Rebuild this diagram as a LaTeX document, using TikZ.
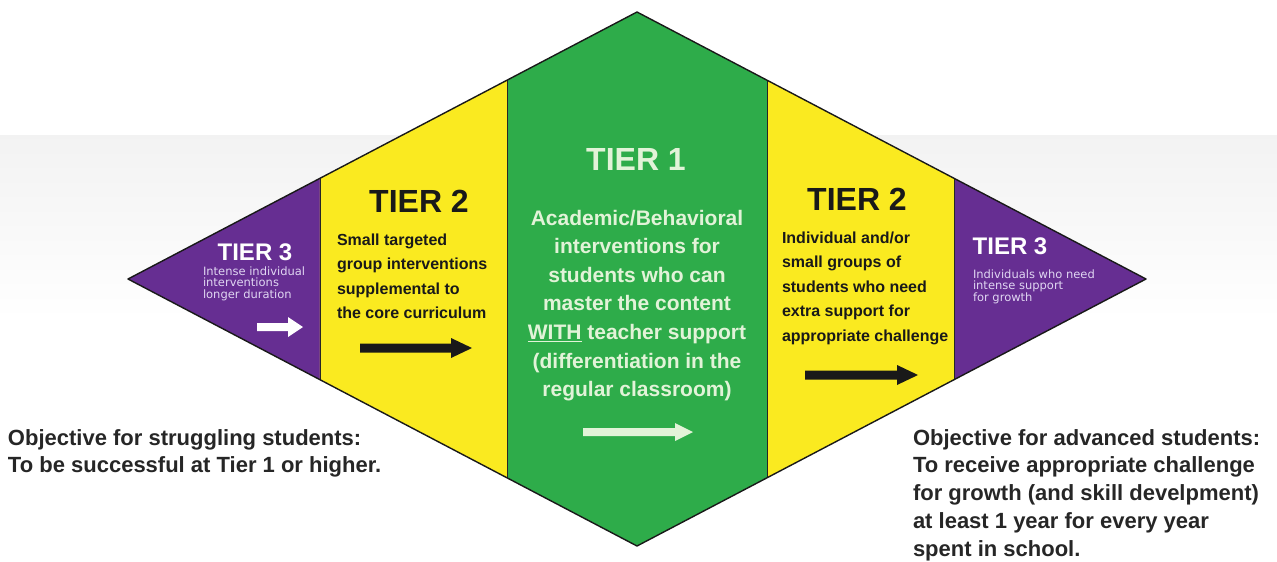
\documentclass[tikz,border=0pt]{standalone}
\usepackage{fontspec}
\setmainfont{Liberation Sans}
\newfontfamily\smallfont{DejaVu Sans}
\usetikzlibrary{calc}

\definecolor{tierpurple}{RGB}{102,46,146}
\definecolor{tieryellow}{RGB}{250,234,32}
\definecolor{tiergreen}{RGB}{46,172,74}
\definecolor{greentext}{RGB}{226,243,216}
\definecolor{lavender}{RGB}{224,214,242}
\definecolor{objgray}{RGB}{38,38,38}

% block arrow: colour, x from, x to, y, shaft half, head half, head length
\newcommand{\blockarrow}[7]{%
  \fill[#1] (#2,#4-#5) -- (#3-#7,#4-#5) -- (#3-#7,#4-#6) -- (#3,#4)
    -- (#3-#7,#4+#6) -- (#3-#7,#4+#5) -- (#2,#4+#5) -- cycle;}

\begin{document}
\begin{tikzpicture}[x=1pt, y=-1pt, inner sep=0, outer sep=0,
  tiertitle/.style={anchor=base, font=\bfseries\fontsize{32}{32}\selectfont},
  smalltitle/.style={anchor=base, text=white, font=\bfseries\fontsize{24}{24}\selectfont},
  tierbody/.style={anchor=base west, align=left, text=black!90, font=\bfseries\fontsize{16}{24.5}\selectfont},
  tiernote/.style={anchor=base west, align=left, text=lavender, font=\smallfont\fontsize{11.5}{11.5}\selectfont},
  objective/.style={anchor=base west, align=left, text=objgray, font=\bfseries\fontsize{22}{27.8}\selectfont}]

  \useasboundingbox (0,0) rectangle (1277,562);
  % faint band behind the diamond
  \fill[top color=black!5, bottom color=white] (0,135) rectangle (1277,320);

  \coordinate (L) at (128,279);
  \coordinate (T) at (637,12);
  \coordinate (R) at (1146,279);
  \coordinate (B) at (637,546);

  \coordinate (lt1) at ($(L)!0.3772!(T)$);
  \coordinate (lb1) at ($(L)!0.3772!(B)$);
  \coordinate (lt2) at ($(L)!0.7446!(T)$);
  \coordinate (lb2) at ($(L)!0.7446!(B)$);
  \coordinate (rt1) at ($(R)!0.3772!(T)$);
  \coordinate (rb1) at ($(R)!0.3772!(B)$);
  \coordinate (rt2) at ($(R)!0.7446!(T)$);
  \coordinate (rb2) at ($(R)!0.7446!(B)$);

  \fill[tierpurple] (L) -- (lt1) -- (lb1) -- cycle;
  \fill[tieryellow] (lt1) -- (lt2) -- (lb2) -- (lb1) -- cycle;
  \fill[tiergreen] (lt2) -- (T) -- (rt2) -- (rb2) -- (B) -- (lb2) -- cycle;
  \fill[tieryellow] (rt2) -- (rt1) -- (rb1) -- (rb2) -- cycle;
  \fill[tierpurple] (rt1) -- (R) -- (rb1) -- cycle;

  \draw[black!85, line width=0.9] (lt1) -- (lb1);
  \draw[black!85, line width=0.9] (lt2) -- (lb2);
  \draw[black!85, line width=0.9] (rt2) -- (rb2);
  \draw[black!85, line width=0.9] (rt1) -- (rb1);
  \draw[black!90, line width=1.4, line join=round] (L) -- (T) -- (R) -- (B) -- cycle;

  % left tier 3 (multi-line nodes sit on their last baseline)
  \node[smalltitle] (t3ltitle) at (255,260) {TIER 3};
  \node[tiernote] (t3lnote) at (203,298) {Intense individual\\interventions\\longer duration};
  \blockarrow{white}{257}{303}{327}{4}{10}{15}

  % left tier 2
  \node[tiertitle, text=black!90] (t2ltitle) at (419,212) {TIER 2};
  \node[tierbody] (t2lbody) at (337,318.5) {Small targeted\\group interventions\\supplemental to\\the core curriculum};
  \blockarrow{black!90}{360}{472}{348}{4.5}{10}{21}

  % tier 1
  \node[tiertitle, text=greentext] (t1title) at (636,170) {TIER 1};
  \node[anchor=base, align=center, text=greentext, font=\bfseries\fontsize{21}{28.6}\selectfont] (t1body) at (637,396.6)
    {Academic/Behavioral\\interventions for\\students who can\\master the content\\\underline{WITH} teacher support\\(differentiation in the\\regular classroom)};
  \blockarrow{greentext}{583}{693}{432}{4}{9}{18}

  % right tier 2
  \node[tiertitle, text=black!90] (t2rtitle) at (857,210) {TIER 2};
  \node[tierbody] (t2rbody) at (782,341) {Individual and/or\\small groups of\\students who need\\extra support for\\appropriate challenge};
  \blockarrow{black!90}{805}{918}{375}{4.5}{10}{21}

  % right tier 3
  \node[smalltitle] (t3rtitle) at (1010,254) {TIER 3};
  \node[tiernote] (t3rnote) at (973,301) {Individuals who need\\intense support\\for growth};

  \node[objective] (objleft) at (8,472.8) {Objective for struggling students:\\To be successful at Tier 1 or higher.};
  \node[objective] (objright) at (913,556.2) {Objective for advanced students:\\To receive appropriate challenge\\for growth (and skill develpment)\\at least 1 year for every year\\spent in school.};
\end{tikzpicture}
\end{document}
